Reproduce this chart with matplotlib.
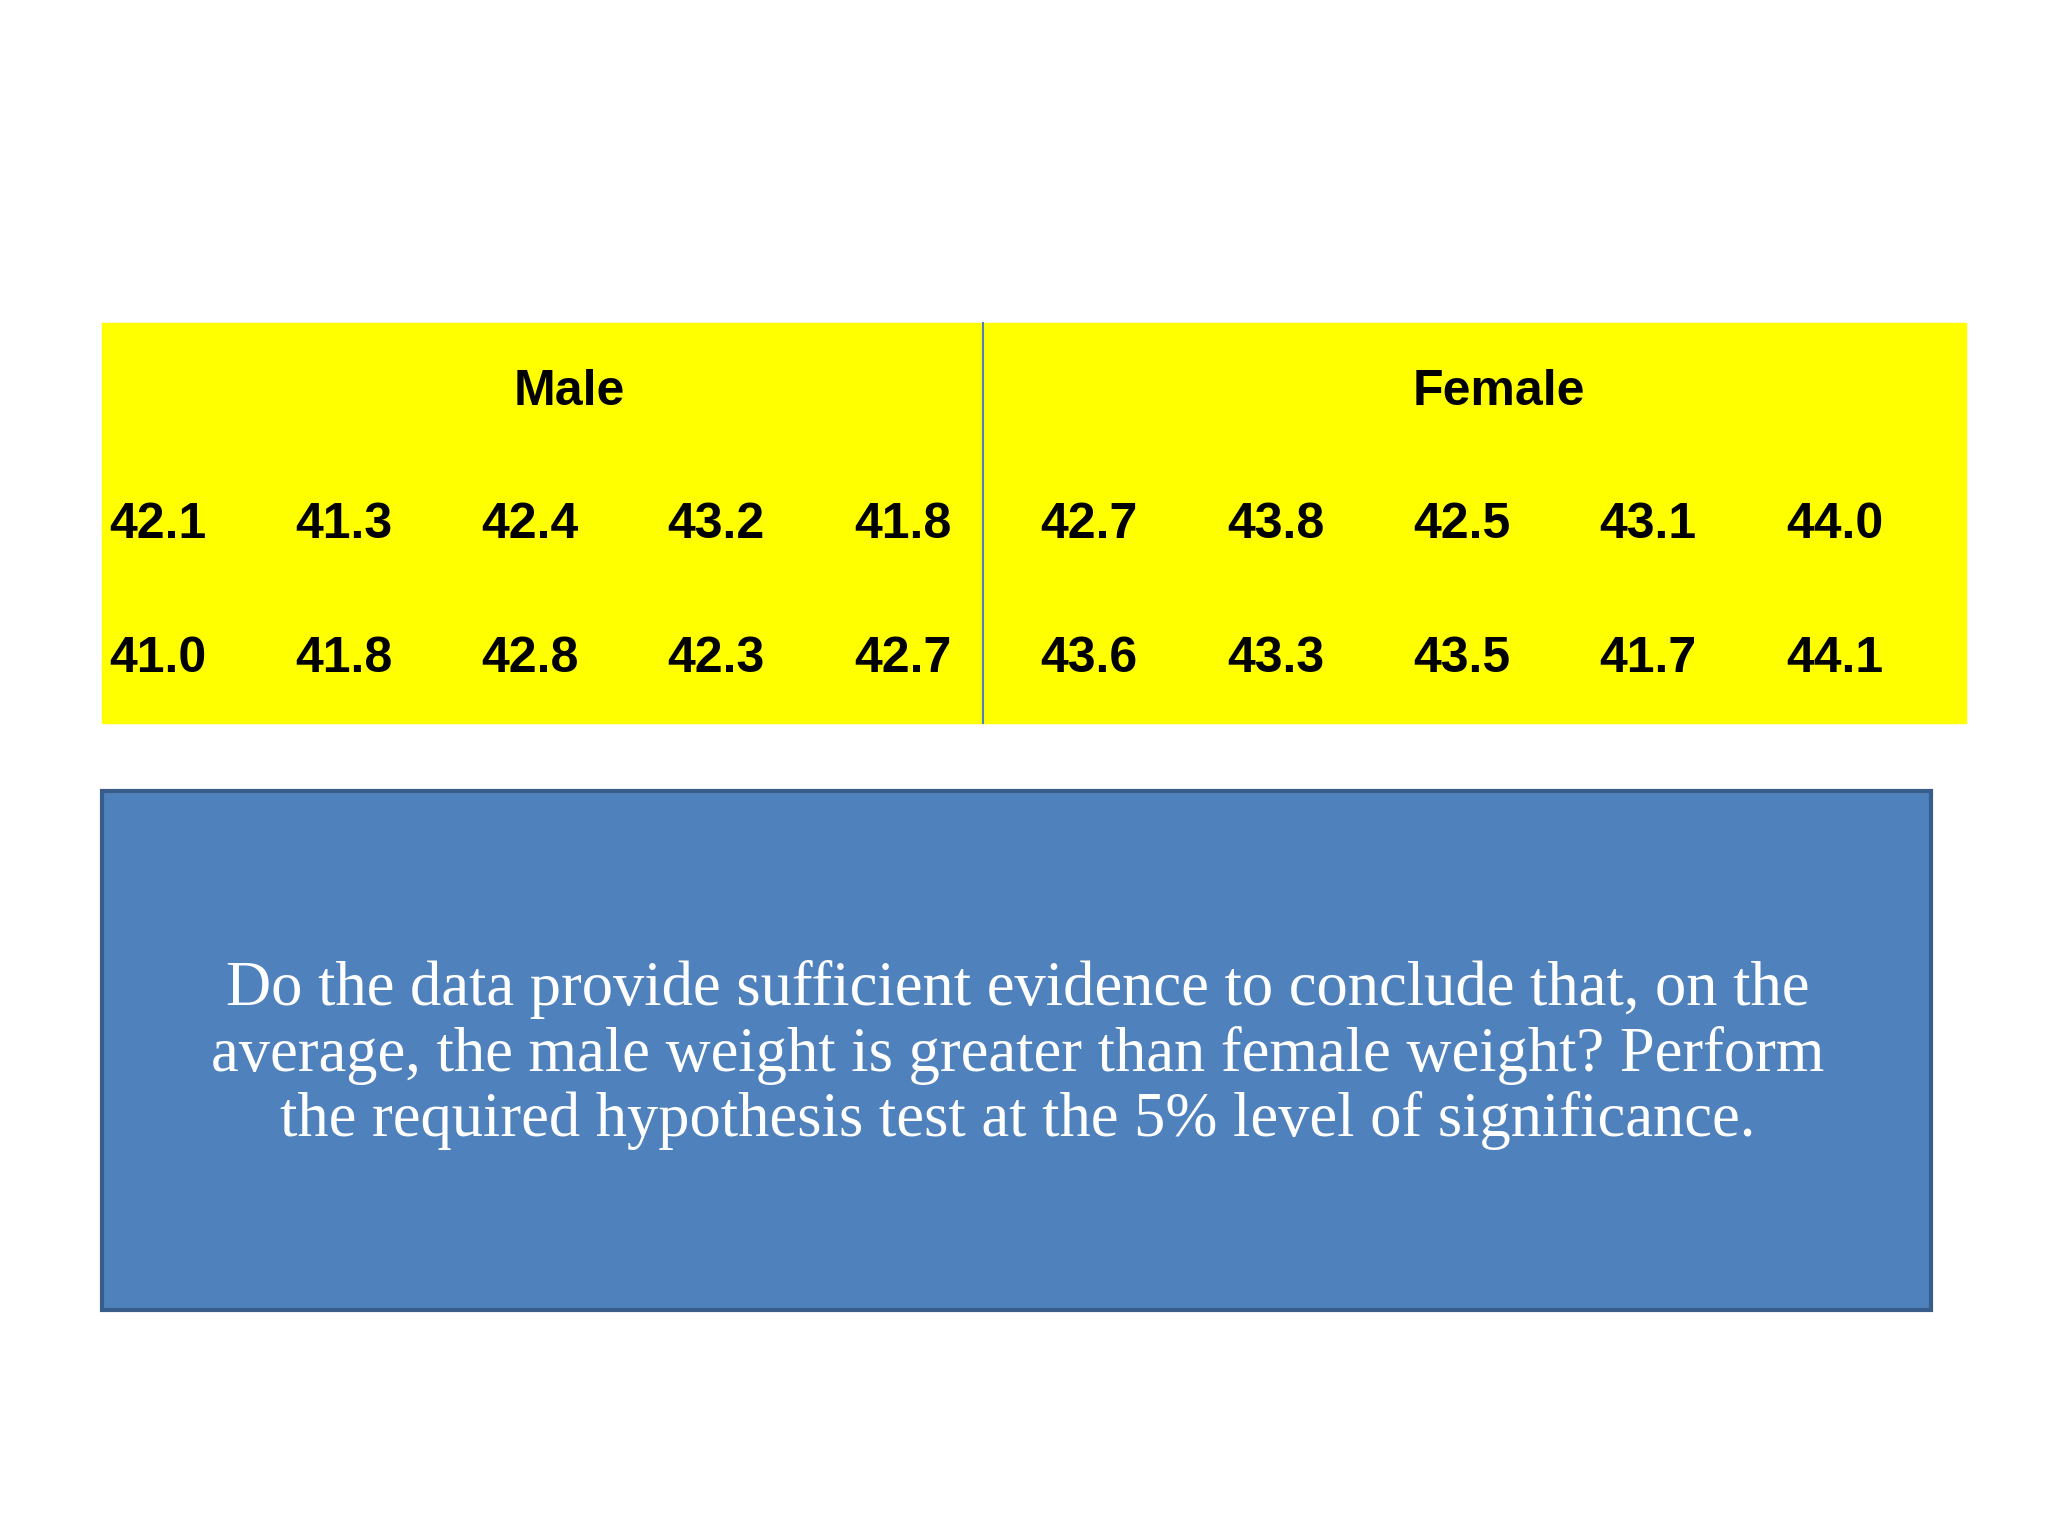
import matplotlib
matplotlib.use("Agg")
import matplotlib.pyplot as plt
from matplotlib.patches import Rectangle

headers = ["Male", "Female"]
male_row1 = ["42.1", "41.3", "42.4", "43.2", "41.8"]
male_row2 = ["41.0", "41.8", "42.8", "42.3", "42.7"]
female_row1 = ["42.7", "43.8", "42.5", "43.1", "44.0"]
female_row2 = ["43.6", "43.3", "43.5", "41.7", "44.1"]
question = ("Do the data provide sufficient evidence to conclude that, on the\n"
            "average, the male weight is greater than female weight? Perform\n"
            "the required hypothesis test at the 5% level of significance.")

fig = plt.figure(figsize=(20.48, 15.36), dpi=100)
ax = fig.add_axes([0, 0, 1, 1])
ax.set_xlim(0, 1)
ax.set_ylim(1, 0)
ax.axis("off")

# yellow table
ax.add_patch(Rectangle((0.050, 0.210), 0.910, 0.261, color="#ffff00", zorder=1))
ax.plot([0.480, 0.480], [0.210, 0.471], color="#4f81bd", lw=1.5, zorder=2)

num_font = dict(family="Liberation Sans", weight="bold", fontsize=36, va="center")
ax.text(0.278, 0.255, headers[0], ha="center", **num_font)
ax.text(0.732, 0.255, headers[1], ha="center", **num_font)

male_x = [0.0535, 0.144, 0.235, 0.326, 0.417]
female_x = [0.508, 0.599, 0.690, 0.781, 0.872]
for xs, r1, r2 in [(male_x, male_row1, male_row2), (female_x, female_row1, female_row2)]:
    for x, a, b in zip(xs, r1, r2):
        ax.text(x, 0.342, a, ha="left", **num_font)
        ax.text(x, 0.429, b, ha="left", **num_font)

# blue question box
ax.add_patch(Rectangle((0.050, 0.515), 0.893, 0.338, facecolor="#4f81bd",
                       edgecolor="#385d8a", lw=3, zorder=1))
ax.text(0.497, 0.687, question, ha="center", va="center", color="white",
        family="Liberation Serif", fontsize=45, linespacing=1.15)

fig.savefig("out.png", dpi=100)
